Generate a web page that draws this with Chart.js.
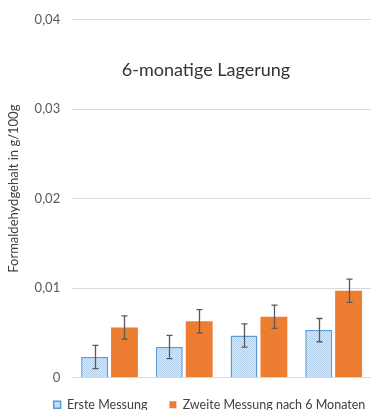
<!DOCTYPE html>
<html><head><meta charset="utf-8">
<script src="https://cdn.jsdelivr.net/npm/chart.js@4"></script>
<style>
html,body{margin:0;padding:0;background:#fff;}
#wrap{position:relative;width:371px;height:410px;overflow:hidden;}
#title{position:absolute;left:0;width:412px;top:58px;text-align:center;font-family:Lato,"Open Sans",sans-serif;font-size:18px;color:#333;}
</style></head>
<body>
<div id="wrap"><canvas id="c" width="371" height="410"></canvas><div id="title">6-monatige Lagerung</div></div>
<script>
const categories = ['1','2','3','4'];
const ersteMessung = [0.0023, 0.0034, 0.0047, 0.0053];
const ersteFehler = [0.0013, 0.0013, 0.0013, 0.0013];
const zweiteMessung = [0.0056, 0.0063, 0.0068, 0.0097];
const zweiteFehler = [0.0013, 0.0013, 0.0013, 0.0013];
const yTickLabels = ['0', '0,01', '0,02', '0,03', '0,04'];

function makePattern(){
  const p = document.createElement('canvas');
  p.width = 2; p.height = 2;
  const g = p.getContext('2d');
  g.fillStyle = '#dce9f5'; g.fillRect(0,0,2,2);
  g.fillStyle = '#b3cfea'; g.fillRect(0,0,1,1); g.fillRect(1,1,1,1);
  return g.createPattern(p,'repeat');
}
const pattern = makePattern();

const errorBars = {
  id:'errorBars',
  afterDatasetsDraw(chart){
    const ctx = chart.ctx, ys = chart.scales.y;
    const errs = [ersteFehler, zweiteFehler];
    ctx.save();
    ctx.strokeStyle = '#595959'; ctx.lineWidth = 1.3;
    chart.data.datasets.forEach((ds,di)=>{
      const meta = chart.getDatasetMeta(di);
      meta.data.forEach((el,i)=>{
        const v = ds.data[i], e = errs[di][i];
        const x = Math.round(el.x)+0.5;
        const yt = ys.getPixelForValue(v+e), yb = ys.getPixelForValue(v-e);
        ctx.beginPath();
        ctx.moveTo(x,yt); ctx.lineTo(x,yb);
        ctx.moveTo(x-3,yt); ctx.lineTo(x+3,yt);
        ctx.moveTo(x-3,yb); ctx.lineTo(x+3,yb);
        ctx.stroke();
      });
    });
    ctx.restore();
  }
};

const legendShift = {
  id:'legendShift',
  afterLayout(chart){
    const l = chart.legend;
    l.top -= 1; l.bottom -= 1; l.left += 20; l.right += 20;
  }
};

new Chart(document.getElementById('c'), {
  type:'bar',
  data:{
    labels:categories,
    datasets:[
      {label:'Erste Messung', data:ersteMessung, backgroundColor:pattern, borderColor:'#5b9bd5', borderWidth:1.5},
      {label:'Zweite Messung nach 6 Monaten', data:zweiteMessung, backgroundColor:'#ed7d31', borderColor:'#ed7d31', borderWidth:0}
    ]
  },
  plugins:[errorBars, legendShift],
  options:{
    responsive:false, animation:false,
    layout:{padding:{top:11,right:-2,left:6,bottom:-12}},
    datasets:{bar:{categoryPercentage:0.8, barPercentage:0.9}},
    plugins:{
      legend:{position:'bottom', labels:{boxWidth:7, boxHeight:7, padding:22, color:'#404040', font:{family:'Lato', size:12.5}}},
      title:{display:false}, tooltip:{enabled:false}
    },
    scales:{
      x:{display:false},
      y:{min:0,max:0.04,
        ticks:{stepSize:0.01, color:'#595959', padding:12, font:{family:'Lato',size:13},
          callback:(v,i)=>yTickLabels[i]},
        grid:{color:'#d9d9d9', drawTicks:false},
        border:{display:false},
        title:{display:true, text:'\u00A0\u00A0\u00A0\u00A0\u00A0\u00A0Formaldehydgehalt in g/100g', color:'#404040', font:{family:'Lato',size:13}, padding:{top:0,bottom:1}}
      }
    }
  }
});
</script>
</body></html>
